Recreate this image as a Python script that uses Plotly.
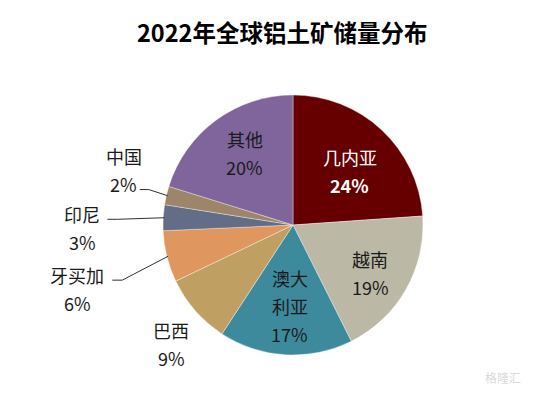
import math
import plotly.graph_objects as go

# ---- data ----
countries = ["几内亚", "越南", "澳大利亚", "巴西", "牙买加", "印尼", "中国", "其他"]
shares = [23.9, 18.7, 16.6, 8.7, 6.4, 3.2, 2.3, 20.2]
name_lines = [["几内亚"], ["越南"], ["澳大", "利亚"], ["巴西"], ["牙买加"], ["印尼"], ["中国"], ["其他"]]
title_text = "2022年全球铝土矿储量分布"

# ---- style ----
colors = ["#660000", "#BBB8A6", "#3E8A9D", "#C0A062", "#E0965F", "#646D88", "#9D8569", "#80659C"]
text_colors = ["#FFFFFF"] + ["#1A1A1A"] * 7
W, H = 542, 393
OFF = 8  # page body margin
FW, FH = W - OFF, H - OFF
CX, CY, R = 293, 225, 130
LINE_GAP = 28
FONT = "Noto Sans CJK SC"
# label placement: (radius factor, angle offset in degrees) relative to slice middle
label_polar = [(0.60, 3.5), (0.70, 2.0), (0.62, -1.0), (1.31, -3.2),
               (1.73, -2.4), (1.62, -4.0), (1.37, 5.0), (0.67, 2.7)]
# leader lines: index -> (dx from label centre, dy from label centre, horizontal length)
leaders = {6: (16, 20, 9), 5: (25, -8.5, 10), 4: (35, -8.5, 10)}


def px(x):
    return (x - OFF) / FW


def py(y):
    return 1 - (y - OFF) / FH


total = sum(shares)
fig = go.Figure(go.Pie(
    labels=countries, values=shares, sort=False, direction="clockwise", rotation=0,
    marker=dict(colors=colors, line=dict(color="rgba(255,255,255,0.6)", width=0.6)),
    textinfo="none", hoverinfo="label+percent", showlegend=False,
    domain=dict(x=[px(CX - R), px(CX + R)], y=[py(CY + R), py(CY - R)]),
))

annotations = []
shapes = []
cum = 0.0
for i, (name, v) in enumerate(zip(countries, shares)):
    mid = (cum + v / 2) / total * 360.0
    cum += v
    rf, dth = label_polar[i]
    th = math.radians(mid + dth)
    lx = CX + rf * R * math.sin(th)
    ly = CY - rf * R * math.cos(th)
    lines = name_lines[i] + [f"{round(v)}%"]
    n = len(lines)
    for k, t in enumerate(lines):
        yk = ly + (k - (n - 1) / 2) * LINE_GAP
        bold = (i == 0 and k == n - 1)
        annotations.append(dict(
            x=px(lx), y=py(yk), xref="paper", yref="paper", showarrow=False,
            text=f"<b>{t}</b>" if bold else t, xanchor="center", yanchor="middle",
            font=dict(family=FONT, size=18, color=text_colors[i])))
    if i in leaders:
        dx, dy, hl = leaders[i]
        tm = math.radians(mid)
        ex = CX + R * 0.99 * math.sin(tm)
        ey = CY - R * 0.99 * math.cos(tm)
        hx0, hy = lx + dx, ly + dy
        hx1 = hx0 + hl
        shapes.append(dict(
            type="path", xref="paper", yref="paper",
            path=f"M {px(hx0)},{py(hy)} L {px(hx1)},{py(hy)} L {px(ex)},{py(ey)}",
            line=dict(color="#303030", width=1)))

annotations.append(dict(
    x=px(282), y=py(32), xref="paper", yref="paper", showarrow=False,
    text=f"<b>{title_text}</b>", xanchor="center", yanchor="middle",
    font=dict(family=FONT, size=23.5, color="#000000")))
annotations.append(dict(
    x=px(503), y=py(377), xref="paper", yref="paper", showarrow=False,
    text="格隆汇", xanchor="center", yanchor="middle",
    font=dict(family=FONT, size=12, color="rgba(200,200,200,0.7)")))

fig.update_layout(
    width=FW, height=FH, margin=dict(l=0, r=0, t=0, b=0),
    paper_bgcolor="white", plot_bgcolor="white",
    annotations=annotations, shapes=shapes,
)
fig.write_html("out.html")
